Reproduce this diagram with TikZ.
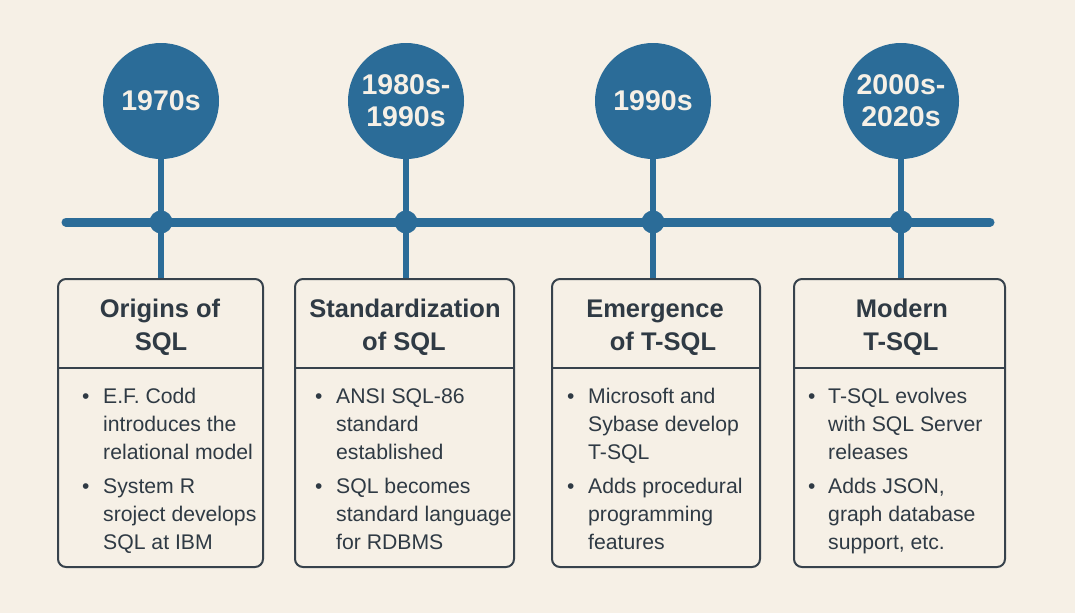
\documentclass[tikz,border=0pt]{standalone}
\usepackage{fontspec}
\setmainfont{Liberation Sans}
\definecolor{bg}{HTML}{F6F0E6}
\definecolor{tlblue}{HTML}{2B6C98}
\definecolor{ink}{HTML}{2F3A44}
\definecolor{boxline}{HTML}{37424C}
\tikzset{
  yearnode/.style={circle, fill=tlblue, minimum size=116pt, inner sep=0pt, text=bg, align=center,
    font=\fontsize{28.5}{32}\selectfont\bfseries},
  dotnode/.style={circle, fill=tlblue, minimum size=23pt, inner sep=0pt},
  stemline/.style={draw=tlblue, line width=6pt},
  mainline/.style={draw=tlblue, line width=9pt, line cap=round},
  cardbox/.style={draw=boxline, line width=2pt, rounded corners=8pt, fill=bg, inner sep=0pt},
  divline/.style={draw=boxline, line width=2pt},
  titletext/.style={anchor=base, inner sep=0pt, text=ink, font=\fontsize{25.5}{28}\selectfont\bfseries},
  bodytext/.style={anchor=base west, inner sep=0pt, text=ink, font=\fontsize{21.2}{28}\selectfont},
  bulletmark/.style={anchor=base west, inner sep=0pt, text=ink, font=\fontsize{21}{28}\selectfont},
}
\begin{document}
\begin{tikzpicture}[x=1pt,y=-1pt]
\fill[bg] (0,0) rectangle (1075,613);
\useasboundingbox (0,0) rectangle (1075,613);

% year circles
\node[yearnode] (c1) at (161,101) {1970s};
\node[yearnode] (c2) at (406,101) {1980s-\\1990s};
\node[yearnode] (c3) at (653,101) {1990s};
\node[yearnode] (c4) at (901,101) {2000s-\\2020s};

% box top reference
\coordinate (btop) at (0,279);

% stems
\draw[stemline] (c1.south) -- (c1.south |- btop);
\draw[stemline] (c2.south) -- (c2.south |- btop);
\draw[stemline] (c3.south) -- (c3.south |- btop);
\draw[stemline] (c4.south) -- (c4.south |- btop);

% cards
\node[cardbox, minimum width=205pt, minimum height=288pt] (b1) at (160.5,423) {};
\node[cardbox, minimum width=219pt, minimum height=288pt] (b2) at (404.5,423) {};
\node[cardbox, minimum width=208pt, minimum height=288pt] (b3) at (656,423) {};
\node[cardbox, minimum width=211pt, minimum height=288pt] (b4) at (899.5,423) {};

% timeline
\coordinate (tl) at (66,222);
\coordinate (tr) at (990,222);
\draw[mainline] (tl) -- (tr);
\node[dotnode] (d1) at (161,222) {};
\node[dotnode] (d2) at (406,222) {};
\node[dotnode] (d3) at (653,222) {};
\node[dotnode] (d4) at (901,222) {};

% dividers
\coordinate (hd) at (0,368);
\draw[divline] (b1.west |- hd) -- (b1.east |- hd);
\draw[divline] (b2.west |- hd) -- (b2.east |- hd);
\draw[divline] (b3.west |- hd) -- (b3.east |- hd);
\draw[divline] (b4.west |- hd) -- (b4.east |- hd);

% titles
\node[titletext] (t1a) at (160,317) {Origins of};
\node[titletext] (t1b) at (161,350) {SQL};
\node[titletext] (t2a) at (405,317) {Standardization};
\node[titletext] (t2b) at (404,350) {of SQL};
\node[titletext] (t3a) at (655,317) {Emergence};
\node[titletext] (t3b) at (663,350) {of T-SQL};
\node[titletext] (t4a) at (902,317) {Modern};
\node[titletext] (t4b) at (901,350) {T-SQL};

% box 1 bullets
\node[bulletmark] (m1a) at (82,403) {•};
\node[bodytext] (l1a) at (103,403) {E.F. Codd};
\node[bodytext] (l1b) at (103,431) {introduces the};
\node[bodytext] (l1c) at (103,459) {relational model};
\node[bulletmark] (m1b) at (82,493) {•};
\node[bodytext] (l1d) at (103,493) {System R};
\node[bodytext] (l1e) at (103,521) {sroject develops};
\node[bodytext] (l1f) at (103,549) {SQL at IBM};

% box 2 bullets
\node[bulletmark] (m2a) at (315,403) {•};
\node[bodytext] (l2a) at (336,403) {ANSI SQL-86};
\node[bodytext] (l2b) at (336,431) {standard};
\node[bodytext] (l2c) at (336,459) {established};
\node[bulletmark] (m2b) at (315,493) {•};
\node[bodytext] (l2d) at (336,493) {SQL becomes};
\node[bodytext] (l2e) at (336,521) {standard language};
\node[bodytext] (l2f) at (336,549) {for RDBMS};

% box 3 bullets
\node[bulletmark] (m3a) at (567,403) {•};
\node[bodytext] (l3a) at (588,403) {Microsoft and};
\node[bodytext] (l3b) at (588,431) {Sybase develop};
\node[bodytext] (l3c) at (588,459) {T-SQL};
\node[bulletmark] (m3b) at (567,493) {•};
\node[bodytext] (l3d) at (588,493) {Adds procedural};
\node[bodytext] (l3e) at (588,521) {programming};
\node[bodytext] (l3f) at (588,549) {features};

% box 4 bullets
\node[bulletmark] (m4a) at (808,403) {•};
\node[bodytext] (l4a) at (828,403) {T-SQL evolves};
\node[bodytext] (l4b) at (828,431) {with SQL Server};
\node[bodytext] (l4c) at (828,459) {releases};
\node[bulletmark] (m4b) at (808,493) {•};
\node[bodytext] (l4d) at (828,493) {Adds JSON,};
\node[bodytext] (l4e) at (828,521) {graph database};
\node[bodytext] (l4f) at (828,549) {support, etc.};
\end{tikzpicture}
\end{document}
